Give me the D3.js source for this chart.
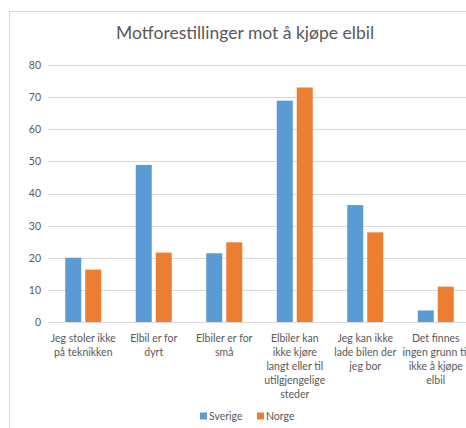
<!DOCTYPE html>
<html>
<head>
<meta charset="utf-8">
<script src="https://cdn.jsdelivr.net/npm/d3@7"></script>
<style>
  html, body { margin: 0; padding: 0; background: #fff; }
  svg { display: block; font-family: Lato, "Open Sans", sans-serif; }
</style>
</head>
<body>
<svg id="chart" width="466" height="428"></svg>
<script>
// chart data
var title = 'Motforestillinger mot å kjøpe elbil';
var categories = [
    'Jeg stoler ikke\npå teknikken',
    'Elbil er for\ndyrt',
    'Elbiler er for\nsmå',
    'Elbiler kan\nikke kjøre\nlangt eller til\nutilgjengelige\nsteder',
    'Jeg kan ikke\nlade bilen der\njeg bor',
    'Det finnes\ningen grunn til\nikke å kjøpe\nelbil'
];
var seriesNames = ['Sverige', 'Norge'];
var sverige = [20, 48.9, 21.4, 68.9, 36.4, 3.6];
var norge = [16.3, 21.6, 24.8, 73.0, 27.9, 11.0];
var yTicks = [0, 10, 20, 30, 40, 50, 60, 70, 80];
var colors = ['#5b9bd5', '#ed7d31'];

var svg = d3.select('#chart');
var textColor = '#595959';

// chart frame (cropped on the right/bottom)
svg.append('rect')
    .attr('x', 9.5).attr('y', 11.5)
    .attr('width', 500).attr('height', 500)
    .attr('fill', '#fff')
    .attr('stroke', '#d9d9d9');

svg.append('text')
    .attr('x', 245).attr('y', 39)
    .attr('text-anchor', 'middle')
    .attr('font-size', 17.5)
    .attr('fill', textColor)
    .text(title);

var x0 = d3.scaleBand().domain(categories).range([48, 471]);
var x1 = d3.scaleBand().domain(seriesNames).range([0, 36]).paddingInner(0.2);
var y = d3.scaleLinear().domain([0, 80]).range([322, 65]);

// gridlines
svg.append('g').selectAll('line').data(yTicks).enter().append('line')
    .attr('x1', 48).attr('x2', 471)
    .attr('y1', function (d) { return Math.round(y(d)) + 0.5; })
    .attr('y2', function (d) { return Math.round(y(d)) + 0.5; })
    .attr('stroke', '#d9d9d9');

var yAxis = svg.append('g')
    .attr('transform', 'translate(41,0)')
    .call(d3.axisLeft(y).tickValues(yTicks).tickSize(0).tickPadding(0));
yAxis.select('.domain').remove();
yAxis.selectAll('text')
    .attr('font-family', 'Lato, sans-serif')
    .attr('font-size', 10.5)
    .attr('fill', textColor);

// bars
var rows = categories.map(function (c, i) { return {cat: c, vals: [sverige[i], norge[i]]}; });
var groups = svg.append('g').selectAll('g').data(rows).enter().append('g')
    .attr('transform', function (d) {
        return 'translate(' + (x0(d.cat) + x0.bandwidth() / 2 - 18) + ',0)';
    });
groups.selectAll('rect')
    .data(function (d) { return d.vals.map(function (v, j) { return {s: seriesNames[j], v: v, j: j}; }); })
    .enter().append('rect')
    .attr('x', function (d) { return x1(d.s); })
    .attr('width', x1.bandwidth())
    .attr('y', function (d) { return y(d.v); })
    .attr('height', function (d) { return y(0) - y(d.v); })
    .attr('fill', function (d) { return colors[d.j]; });

// category labels
var labels = svg.append('g').selectAll('text').data(categories).enter().append('text')
    .attr('text-anchor', 'middle')
    .attr('font-size', 10.5)
    .attr('fill', textColor)
    .attr('transform', function (d) { return 'translate(' + (x0(d) + x0.bandwidth() / 2) + ',342)'; });
labels.selectAll('tspan')
    .data(function (d) { return d.split('\n'); })
    .enter().append('tspan')
    .attr('x', 0)
    .attr('dy', function (d, i) { return i ? 14 : 0; })
    .text(function (d) { return d; });

// legend
var legend = svg.append('g').attr('transform', 'translate(200,416)');
var lx = [0, 57];
seriesNames.forEach(function (name, i) {
    legend.append('rect')
        .attr('x', lx[i]).attr('y', -3.5)
        .attr('width', 7).attr('height', 7)
        .attr('fill', colors[i]);
    legend.append('text')
        .attr('x', lx[i] + 9).attr('y', 3.5)
        .attr('font-size', 10.5)
        .attr('fill', textColor)
        .text(name);
});
</script>
</body>
</html>
